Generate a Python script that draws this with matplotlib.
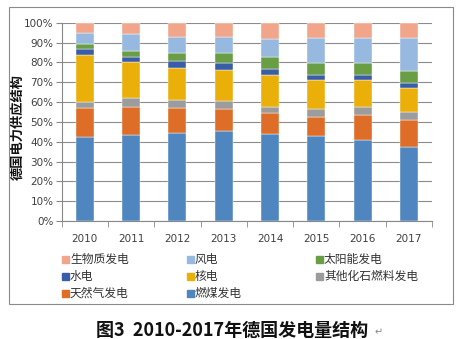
import matplotlib
matplotlib.use("Agg")
import matplotlib.pyplot as plt
from matplotlib.patches import Rectangle
import numpy as np

plt.rcParams['font.family'] = ['Noto Sans CJK SC', 'DejaVu Sans']

years = ['2010', '2011', '2012', '2013', '2014', '2015', '2016', '2017']
# shares (%)
coal    = [42.2, 43.2, 44.4, 45.5, 43.9, 42.7, 40.7, 37.5]
gas     = [14.6, 14.4, 12.7, 11.0, 10.4,  9.6, 12.9, 13.4]
other   = [ 3.4,  4.2,  3.9,  4.0,  3.3,  4.2,  3.7,  4.2]
nuclear = [23.5, 18.2, 16.1, 15.6, 16.2, 14.6, 13.8, 11.8]
hydro   = [ 3.0,  2.9,  3.7,  3.4,  2.8,  2.7,  2.7,  2.8]
solar   = [ 2.4,  3.0,  4.1,  5.0,  6.3,  6.0,  6.0,  6.1]
wind    = [ 5.9,  8.2,  8.0,  8.4,  8.9, 12.6, 12.5, 16.3]
bio     = [ 5.0,  5.9,  7.1,  7.1,  8.2,  7.6,  7.7,  7.9]

series = [
    ('燃煤发电', coal, '#4F86C0'),
    ('天然气发电', gas, '#DE6D27'),
    ('其他化石燃料发电', other, '#9C9C9C'),
    ('核电', nuclear, '#EBAF0A'),
    ('水电', hydro, '#3A5DA8'),
    ('太阳能发电', solar, '#6A9E45'),
    ('风电', wind, '#97B9E0'),
    ('生物质发电', bio, '#F1A58A'),
]

fig = plt.figure(figsize=(4.59, 3.39), dpi=100)
ax = fig.add_axes([61.7/459, 1-221/339, (432-61.7)/459, (221-22.7)/339])

x = np.arange(len(years))
bottom = np.zeros(len(years))
colors = {}
for name, vals, col in series:
    v = np.array(vals, dtype=float)
    ax.bar(x, v, 0.39, bottom=bottom, color=col, zorder=3,
           edgecolor='white', linewidth=0.3)
    colors[name] = col
    bottom += v

ax.set_ylim(0, 100)
ax.set_xlim(-0.5, len(years) - 0.5)
ax.set_yticks(np.arange(0, 101, 10))
ax.set_yticklabels([f'{v}%' for v in range(0, 101, 10)], fontsize=7.5,
                   family='DejaVu Sans', color='#404040')
ax.set_xticks(x)
ax.set_xticklabels(years, fontsize=7.5, family='DejaVu Sans', color='#404040')
ax.set_xticks(np.arange(-0.5, len(years), 1), minor=True)
ax.tick_params(axis='x', which='major', length=0, pad=9)
ax.tick_params(axis='x', which='minor', length=4, color='#888888', direction='out')
ax.tick_params(axis='y', length=4, color='#888888', direction='out', pad=2)
ax.grid(axis='y', color='#8c8c8c', linewidth=0.8, zorder=0)
for s in ['top', 'right']:
    ax.spines[s].set_visible(False)
ax.spines['left'].set_color('#888888')
ax.spines['bottom'].set_color('#888888')

fig.text(18/459, 1-127/339, '德国电力供应结构', rotation=90, ha='center', va='center',
         fontsize=9.5, fontweight='bold', color='#111111')

# legend (row-major, 3 columns)
legend_order = ['生物质发电', '风电', '太阳能发电', '水电', '核电', '其他化石燃料发电',
                '天然气发电', '燃煤发电']
col_x = [62, 187, 316]
row_y = [259, 276, 293]
for i, name in enumerate(legend_order):
    r, c = divmod(i, 3)
    mx = col_x[c]
    my = row_y[r]
    fig.patches.append(Rectangle((mx/459, 1-(my+3.5)/339), 7/459, 7/339,
                                 transform=fig.transFigure, color=colors[name]))
    fig.text((mx + 8)/459, 1-my/339, name, ha='left', va='center', fontsize=8.5,
             color='#333333')

# chart border
fig.patches.append(Rectangle((9/459, 1-304/339), 444/459, 297/339, transform=fig.transFigure,
                             fill=False, edgecolor='#8a8a8a', linewidth=0.8))

fig.text(232/459, 1-330/339, '图3  2010-2017年德国发电量结构', ha='center', va='center',
         fontsize=13, fontweight='bold', color='#111111')
fig.text(375/459, 1-332/339, '↵', ha='left', va='center', fontsize=7,
         color='#888888', family='DejaVu Sans')

fig.savefig('out.png', dpi=100)
